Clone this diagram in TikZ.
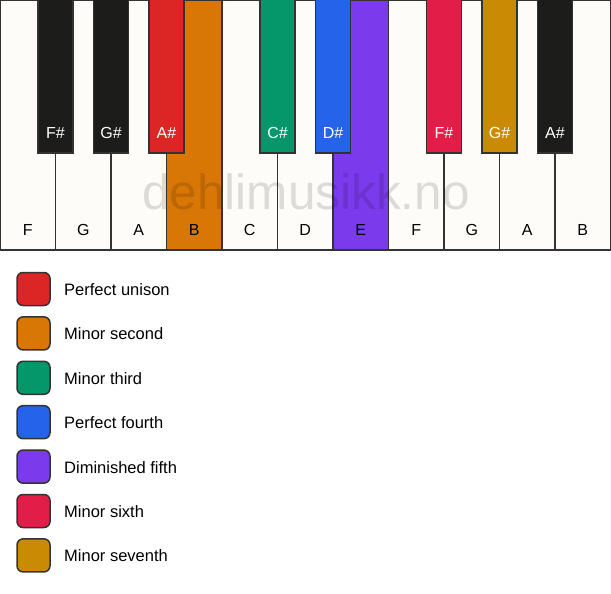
\documentclass[tikz,border=0pt]{standalone}
\usepackage{fontspec}
\setmainfont{Liberation Sans}
\definecolor{keywhite}{HTML}{FDFCF8}
\definecolor{keyblack}{HTML}{1C1C1B}
\definecolor{cred}{HTML}{DC2626}
\definecolor{corange}{HTML}{D97706}
\definecolor{cgreen}{HTML}{059669}
\definecolor{cblue}{HTML}{2563EB}
\definecolor{cviolet}{HTML}{7C3AED}
\definecolor{crose}{HTML}{E11D48}
\definecolor{cgold}{HTML}{CA8A04}
\definecolor{edge}{HTML}{333333}
\tikzset{
  whitekey/.style={draw=edge, line width=1.5pt},
  blackkey/.style={draw=edge, line width=1.2pt},
  keylabel/.style={font=\fontsize{16}{16}\selectfont, text=black, inner sep=0pt},
  blacklabel/.style={font=\fontsize{16}{16}\selectfont, text=white, inner sep=0pt},
  legendbox/.style={draw=edge, line width=1.5pt, rounded corners=6pt, minimum width=33pt, minimum height=33pt, inner sep=0pt},
  legendtext/.style={font=\fontsize{16.5}{16.5}\selectfont, anchor=west, inner sep=0pt},
  watermark/.style={font=\fontsize{49.5}{49.5}\selectfont, text=black, text opacity=0.13, inner sep=0pt}
}
\begin{document}
\begin{tikzpicture}[x=1pt,y=-1pt]
\useasboundingbox (0,0) rectangle (611,594);
% white keys
\foreach \i/\n/\c in {0/F/keywhite,1/G/keywhite,2/A/keywhite,3/B/corange,4/C/keywhite,5/D/keywhite,6/E/cviolet,7/F/keywhite,8/G/keywhite,9/A/keywhite,10/B/keywhite}{
  \path[whitekey, fill=\c] ({\i*55.5},0) rectangle ({(\i+1)*55.5},250);
  \node[keylabel] (w\i) at ({\i*55.5+27.75},230) {\n};
}
% watermark
\node[watermark] (wm) at (306,192) {dehlimusikk.no};
% black keys
\foreach \i/\n/\c in {1/F\#/keyblack,2/G\#/keyblack,3/A\#/cred,5/C\#/cgreen,6/D\#/cblue,8/F\#/crose,9/G\#/cgold,10/A\#/keyblack}{
  \path[blackkey, fill=\c] ({\i*55.5-17.5},-1) rectangle ({\i*55.5+17.5},153);
  \node[blacklabel] (b\i) at ({\i*55.5},133) {\n};
}
% legend
\foreach \k/\c/\t in {0/cred/Perfect unison,1/corange/Minor second,2/cgreen/Minor third,3/cblue/Perfect fourth,4/cviolet/Diminished fifth,5/crose/Minor sixth,6/cgold/Minor seventh}{
  \node[legendbox, fill=\c] (lb\k) at (33.5,{289+\k*44.4}) {};
  \node[legendtext] (lt\k) at (64,{289.5+\k*44.4}) {\t};
}
\end{tikzpicture}
\end{document}
